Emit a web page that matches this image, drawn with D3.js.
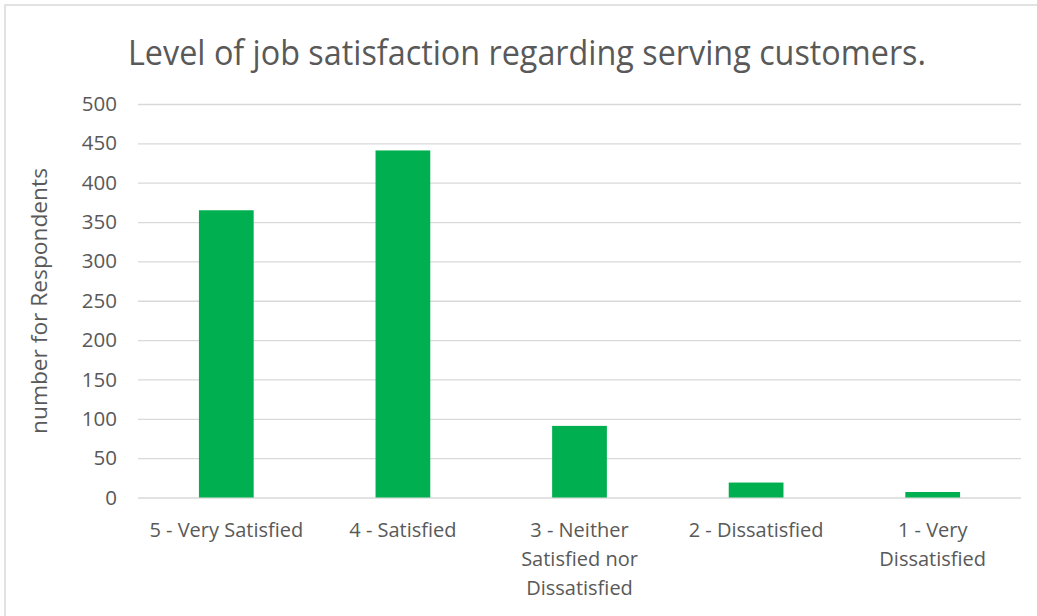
<!DOCTYPE html>
<html>
<head>
<meta charset="utf-8">
<script src="https://cdn.jsdelivr.net/npm/d3@7"></script>
<style>
  html, body { margin: 0; padding: 0; background: #fff; }
  svg { display: block; }
  text { font-family: "Open Sans", "Noto Sans", sans-serif; fill: #595959; }
</style>
</head>
<body>
<svg id="chart" width="1037" height="616"></svg>
<script>
// Survey results: respondents per satisfaction level
const categories = [
  ["5 - Very Satisfied"],
  ["4 - Satisfied"],
  ["3 - Neither", "Satisfied nor", "Dissatisfied"],
  ["2 - Dissatisfied"],
  ["1 - Very", "Dissatisfied"]
];
const respondents = [365, 441, 91, 19, 7];
const yTicks = [0, 50, 100, 150, 200, 250, 300, 350, 400, 450, 500];
const titleText = "Level of job satisfaction regarding serving customers.";
const yAxisTitle = "number for Respondents";

const svg = d3.select("#chart");
const W = 1037, H = 616;

// chart frame
svg.append("rect")
  .attr("x", 5).attr("y", 5)
  .attr("width", W - 4).attr("height", H - 4)
  .attr("fill", "#fff")
  .attr("stroke", "#d9d9d9")
  .attr("stroke-width", 1.5);

const plot = { left: 138, right: 1021, top: 104, bottom: 497.5 };

const x = d3.scaleBand()
  .domain(d3.range(categories.length))
  .range([plot.left, plot.right])
  .paddingInner(0.69)
  .paddingOuter(0.345);

const y = d3.scaleLinear()
  .domain([0, 500])
  .range([plot.bottom, plot.top]);

// horizontal gridlines and value labels
const yAxis = d3.axisLeft(y)
  .tickValues(yTicks)
  .tickSize(-(plot.right - plot.left))
  .tickPadding(21)
  .tickFormat(d3.format("d"));

const gy = svg.append("g")
  .attr("transform", `translate(${plot.left},0)`)
  .call(yAxis);
gy.select(".domain").remove();
gy.selectAll(".tick line")
  .attr("stroke", "#d9d9d9")
  .attr("stroke-width", 1.3);
gy.selectAll(".tick text")
  .style("font-size", "20.5px")
  .attr("fill", "#595959");

// bars
svg.append("g")
  .selectAll("rect")
  .data(respondents)
  .join("rect")
  .attr("x", (d, i) => x(i))
  .attr("y", d => y(d))
  .attr("width", x.bandwidth())
  .attr("height", d => y(0) - y(d))
  .attr("fill", "#00b050");

// category labels (wrapped lines)
const xl = svg.append("g")
  .selectAll("text")
  .data(categories)
  .join("text")
  .attr("text-anchor", "middle")
  .style("font-size", "20px")
  .attr("transform", (d, i) => `translate(${x(i) + x.bandwidth() / 2},537)`);
xl.selectAll("tspan")
  .data(d => d)
  .join("tspan")
  .attr("x", 0)
  .attr("dy", (d, j) => j === 0 ? 0 : 29)
  .text(d => d);

// title
const title = svg.append("text")
  .attr("x", 527)
  .attr("y", 65)
  .attr("text-anchor", "middle")
  .style("font-size", "34px")
  .text(titleText);
const tw = title.node().getComputedTextLength();
if (tw > 798) title.attr("textLength", 798).attr("lengthAdjust", "spacingAndGlyphs");

// y axis title
svg.append("text")
  .attr("transform", `translate(47,301) rotate(-90)`)
  .attr("text-anchor", "middle")
  .style("font-size", "21px")
  .attr("textLength", 266)
  .attr("lengthAdjust", "spacingAndGlyphs")
  .text(yAxisTitle);
</script>
</body>
</html>
